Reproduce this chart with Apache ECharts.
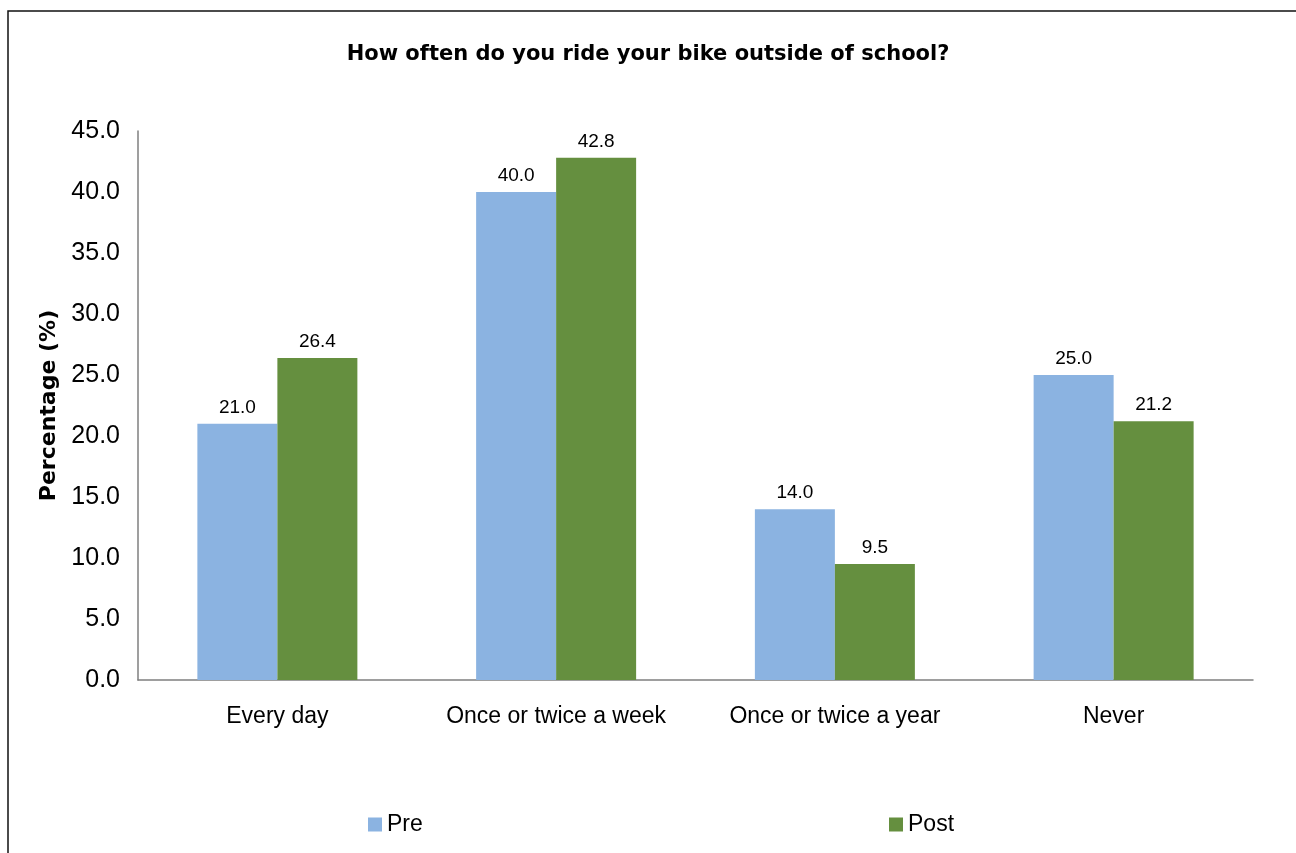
<!DOCTYPE html>
<html>
<head>
<meta charset="utf-8">
<script src="https://cdn.jsdelivr.net/npm/echarts@6/dist/echarts.min.js"></script>
<style>html,body{margin:0;padding:0;background:#fff}#c{width:1296px;height:853px}</style>
</head>
<body>
<div id="c"></div>
<script>
const categories = ['Every day', 'Once or twice a week', 'Once or twice a year', 'Never'];
const preValues = [21.0, 40.0, 14.0, 25.0];
const postValues = [26.4, 42.8, 9.5, 21.2];
const seriesNames = ['Pre', 'Post'];
const titleText = 'How often do you ride your bike outside of school?';
const yAxisName = 'Percentage (%)';

const FONT = 'Liberation Sans, Arial, sans-serif';
const chart = echarts.init(document.getElementById('c'), null, {renderer: 'canvas'});
const labelCfg = {
  show: true, position: 'top', distance: 7, color: '#000', fontSize: 19, fontFamily: FONT,
  formatter: p => Number(p.value).toFixed(1)
};
const legendText = {fontFamily: FONT, fontSize: 23, color: '#000'};
chart.setOption({
  backgroundColor: '#fff',
  animation: false,
  graphic: [{
    type: 'rect', silent: true,
    shape: {x: 8, y: 11, width: 1400, height: 1000},
    style: {fill: 'none', stroke: '#111', lineWidth: 1.5}
  }],
  title: {
    text: titleText, left: 'center', top: 39,
    textStyle: {fontFamily: 'DejaVu Sans, sans-serif', fontWeight: 'bold', fontSize: 21, color: '#000'}
  },
  legend: [
    {data: [seriesNames[0]], left: 368, top: 813, padding: 0, icon: 'rect', itemWidth: 14, itemHeight: 14, itemGap: 5,
     textStyle: legendText},
    {data: [seriesNames[1]], left: 889, top: 813, padding: 0, icon: 'rect', itemWidth: 14, itemHeight: 14, itemGap: 5,
     textStyle: legendText}
  ],
  grid: {left: 138, right: 43, top: 131, bottom: 173, containLabel: false},
  xAxis: {
    type: 'category', data: categories,
    axisLine: {lineStyle: {color: '#7f7f7f', width: 1.5}},
    axisTick: {show: false},
    axisLabel: {color: '#000', fontSize: 23, fontFamily: FONT, margin: 25, interval: 0}
  },
  yAxis: {
    type: 'value', min: 0, max: 45, interval: 5,
    name: yAxisName, nameLocation: 'middle', nameGap: 78, nameRotate: 90,
    nameTextStyle: {fontFamily: 'DejaVu Sans, sans-serif', fontWeight: 'bold', fontSize: 22, color: '#000'},
    axisLine: {show: true, lineStyle: {color: '#7f7f7f', width: 1.5}},
    axisTick: {show: false},
    splitLine: {show: false},
    axisLabel: {color: '#000', fontSize: 25, fontFamily: FONT, margin: 18, formatter: v => v.toFixed(1)}
  },
  series: [
    {name: seriesNames[0], type: 'bar', data: preValues, barWidth: 80, barGap: '0%',
     itemStyle: {color: '#8BB3E1'}, label: labelCfg},
    {name: seriesNames[1], type: 'bar', data: postValues, barWidth: 80, barGap: '0%',
     itemStyle: {color: '#658F3F'}, label: labelCfg}
  ]
});
</script>
</body>
</html>
